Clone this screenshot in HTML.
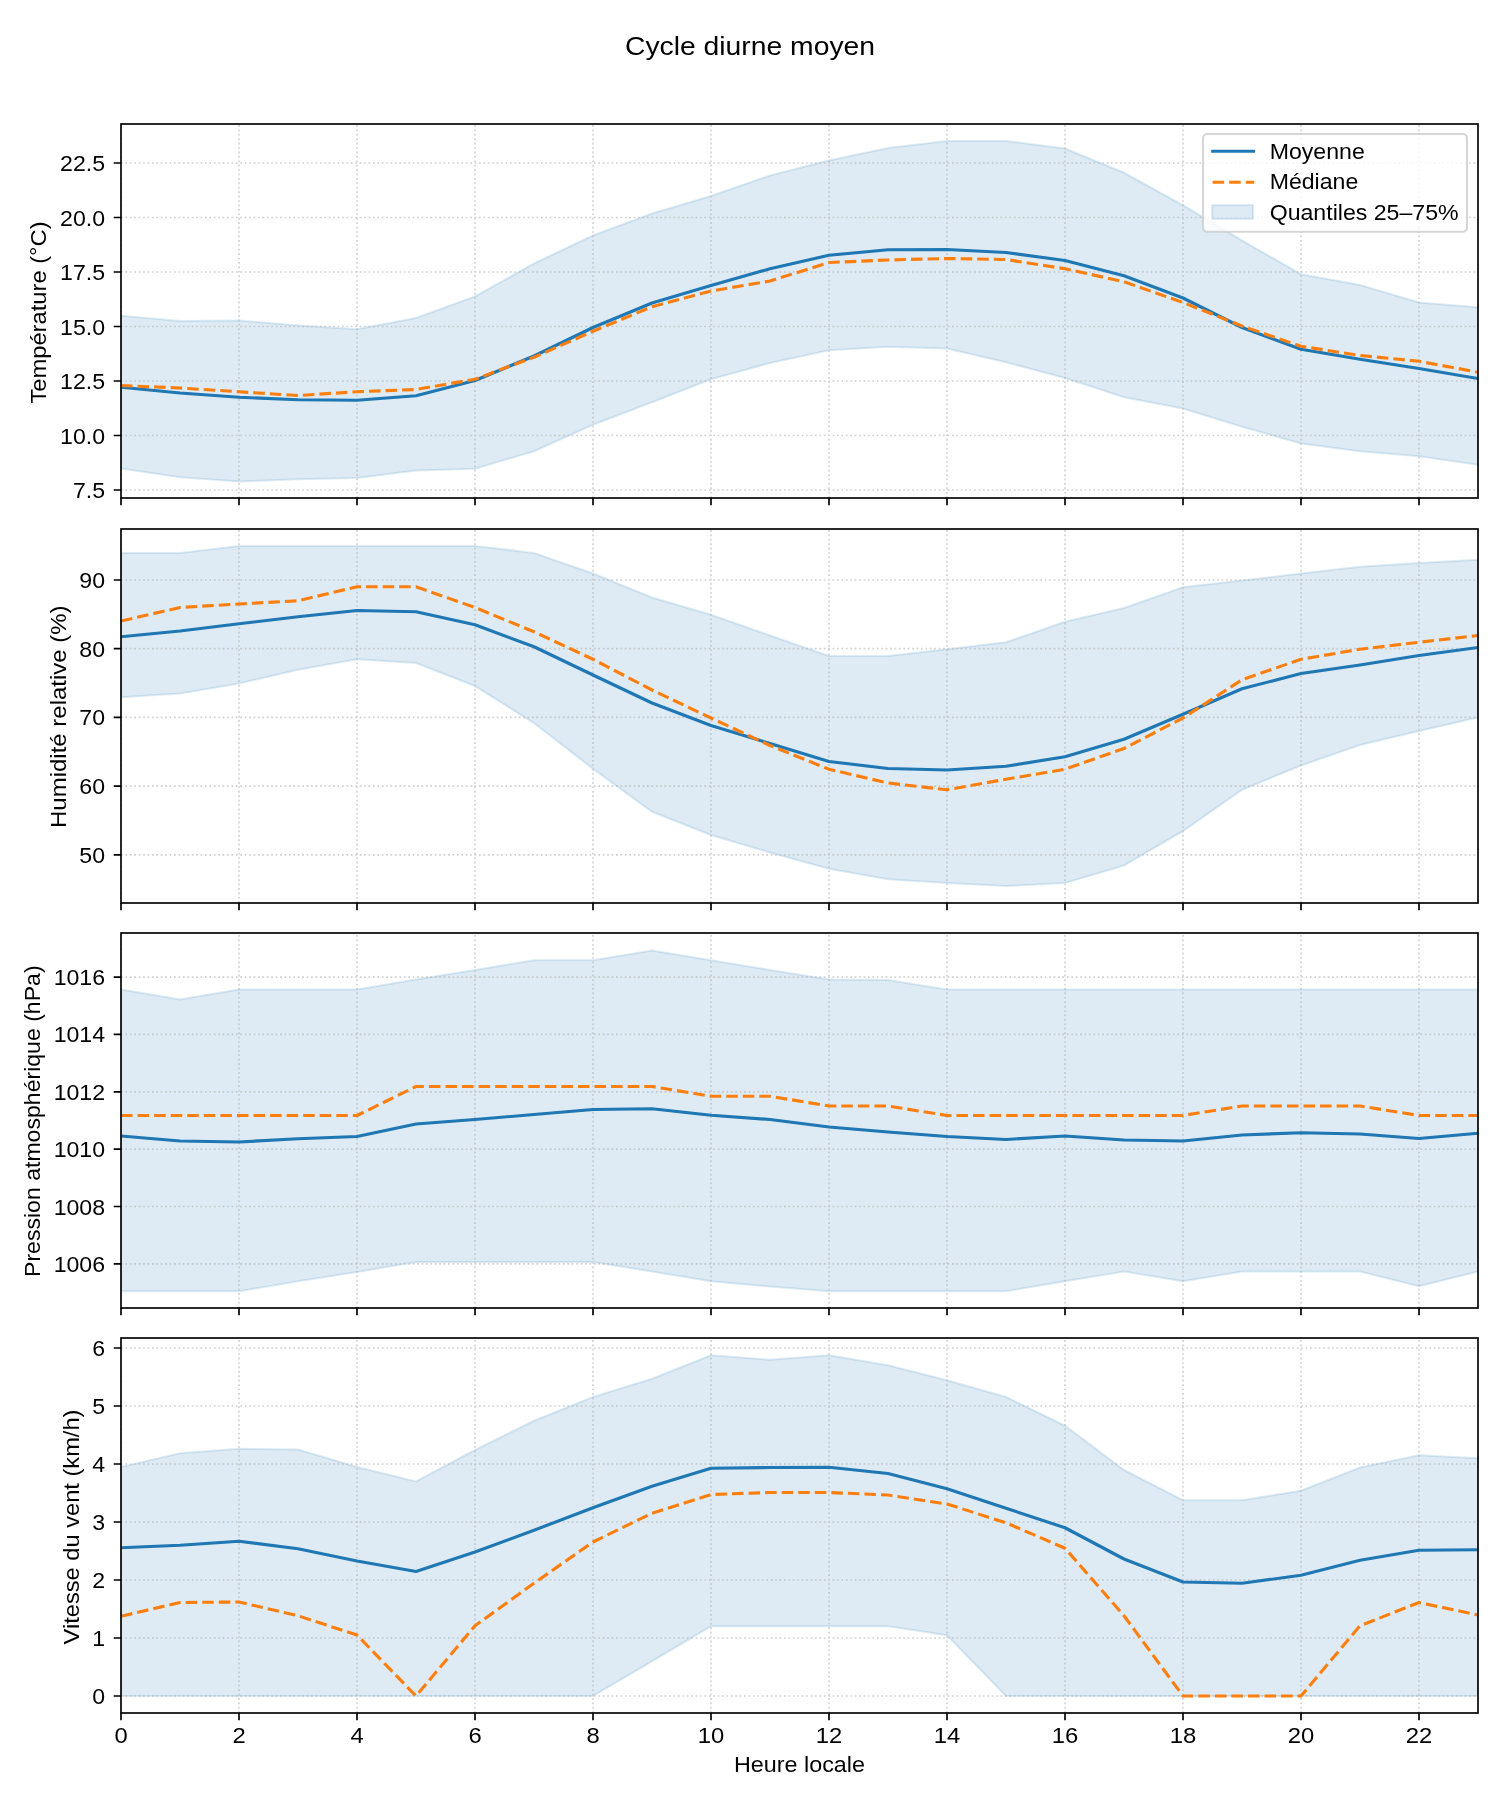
<!DOCTYPE html>
<html lang="fr"><head><meta charset="utf-8"><title>Cycle diurne moyen</title>
<style>html,body{margin:0;padding:0;background:#fff}body{width:1500px;height:1800px;overflow:hidden}svg{display:block;will-change:transform}text{font-family:"Liberation Sans",sans-serif;fill:#000}</style>
</head><body>
<svg width="1500" height="1800" viewBox="0 0 1500 1800">
<text x="750" y="54.7" font-size="26.4" text-anchor="middle" textLength="250.05" lengthAdjust="spacingAndGlyphs">Cycle diurne moyen</text>
<g>
<clipPath id="c0"><rect x="121" y="124" width="1357" height="374"/></clipPath>
<g clip-path="url(#c0)">
<path d="M121 315.75 L180 321 L239 320.5 L298 325.5 L357 329.25 L416 318 L475 296.5 L534 263.5 L593 235.5 L652 213.5 L711 196 L770 175.5 L829 160.5 L888 148 L947 141 L1006 141 L1065 148.5 L1124 172.75 L1183 205.25 L1242 240.5 L1301 274.25 L1360 285 L1419 302.5 L1478 307.25 L1478 464.75 L1419 456.25 L1360 451.25 L1301 443.5 L1242 426.75 L1183 408.5 L1124 397.25 L1065 378 L1006 362.25 L947 348.5 L888 346.75 L829 350.25 L770 363 L711 379.25 L652 402.25 L593 424.75 L534 451.25 L475 468.75 L416 470.5 L357 478 L298 479.25 L239 481.5 L180 477.25 L121 468.5 Z" fill="#1f77b4" fill-opacity="0.15" stroke="#1f77b4" stroke-opacity="0.15" stroke-width="2.08" stroke-linejoin="miter"/>
<path d="M121 498 V124 M239 498 V124 M357 498 V124 M475 498 V124 M593 498 V124 M711 498 V124 M829 498 V124 M947 498 V124 M1065 498 V124 M1183 498 V124 M1301 498 V124 M1419 498 V124 M121 163 H1478 M121 217.5 H1478 M121 272 H1478 M121 326.5 H1478 M121 381 H1478 M121 435.5 H1478 M121 490 H1478" fill="none" stroke="#b0b0b0" stroke-opacity="0.6" stroke-width="1.67" stroke-dasharray="1.67 2.75"/>
<path d="M121 387.25 L180 393 L239 397.25 L298 399.75 L357 400.25 L416 395.75 L475 380.5 L534 356 L593 327.5 L652 303 L711 285.5 L770 268.75 L829 255.25 L888 249.75 L947 249.5 L1006 252.5 L1065 260.5 L1124 275.75 L1183 298 L1242 327.5 L1301 349.25 L1360 359.25 L1419 368.5 L1478 378.5" fill="none" stroke="#1f77b4" stroke-width="3.125" stroke-linejoin="round" stroke-linecap="butt"/>
<path d="M121 385.5 L180 388 L239 391.75 L298 395.5 L357 391.75 L416 389.5 L475 379.25 L534 357.25 L593 331.25 L652 306.75 L711 291 L770 281 L829 262.5 L888 260 L947 258.5 L1006 259.5 L1065 268.75 L1124 281.75 L1183 302.5 L1242 326 L1301 346.25 L1360 355.5 L1419 361.25 L1478 372.25" fill="none" stroke="#ff7f0e" stroke-width="3.125" stroke-dasharray="11.56 5" stroke-linejoin="round" stroke-linecap="butt"/>
</g>
<path d="M121 498 v7.29 M239 498 v7.29 M357 498 v7.29 M475 498 v7.29 M593 498 v7.29 M711 498 v7.29 M829 498 v7.29 M947 498 v7.29 M1065 498 v7.29 M1183 498 v7.29 M1301 498 v7.29 M1419 498 v7.29 M121 163 h-7.29 M121 217.5 h-7.29 M121 272 h-7.29 M121 326.5 h-7.29 M121 381 h-7.29 M121 435.5 h-7.29 M121 490 h-7.29" fill="none" stroke="#000" stroke-width="1.67"/>
<rect x="121" y="124" width="1357" height="374" fill="none" stroke="#000" stroke-width="1.67" stroke-linejoin="miter"/>
<text x="105.1" y="171" font-size="22" text-anchor="end" textLength="44.99" lengthAdjust="spacingAndGlyphs">22.5</text>
<text x="105.1" y="225.5" font-size="22" text-anchor="end" textLength="44.99" lengthAdjust="spacingAndGlyphs">20.0</text>
<text x="105.1" y="280" font-size="22" text-anchor="end" textLength="44.99" lengthAdjust="spacingAndGlyphs">17.5</text>
<text x="105.1" y="334.5" font-size="22" text-anchor="end" textLength="44.99" lengthAdjust="spacingAndGlyphs">15.0</text>
<text x="105.1" y="389" font-size="22" text-anchor="end" textLength="44.99" lengthAdjust="spacingAndGlyphs">12.5</text>
<text x="105.1" y="443.5" font-size="22" text-anchor="end" textLength="44.99" lengthAdjust="spacingAndGlyphs">10.0</text>
<text x="105.1" y="498" font-size="22" text-anchor="end" textLength="32.14" lengthAdjust="spacingAndGlyphs">7.5</text>
<text transform="translate(46.3 312.5) rotate(-90)" font-size="22" text-anchor="middle" textLength="182.2" lengthAdjust="spacingAndGlyphs">Température (°C)</text>
</g>
<g>
<clipPath id="c1"><rect x="121" y="529" width="1357" height="374"/></clipPath>
<g clip-path="url(#c1)">
<path d="M121 553 L180 553 L239 546 L298 546 L357 546 L416 546 L475 546 L534 553 L593 573.5 L652 597.5 L711 614.75 L770 635.5 L829 656 L888 656 L947 649.25 L1006 642.25 L1065 621.75 L1124 608 L1183 587.25 L1242 580.5 L1301 573.5 L1360 566.75 L1419 563 L1478 559.75 L1478 717.5 L1419 731 L1360 745 L1301 765.5 L1242 789.75 L1183 831 L1124 865.5 L1065 883 L1006 886 L947 883 L888 879.25 L829 868.75 L770 852.5 L711 835 L652 811.75 L593 768.75 L534 723 L475 686 L416 663 L357 659.25 L298 669.75 L239 683.5 L180 693.5 L121 697.25 Z" fill="#1f77b4" fill-opacity="0.15" stroke="#1f77b4" stroke-opacity="0.15" stroke-width="2.08" stroke-linejoin="miter"/>
<path d="M121 903 V529 M239 903 V529 M357 903 V529 M475 903 V529 M593 903 V529 M711 903 V529 M829 903 V529 M947 903 V529 M1065 903 V529 M1183 903 V529 M1301 903 V529 M1419 903 V529 M121 580 H1478 M121 648.7 H1478 M121 717.4 H1478 M121 786.1 H1478 M121 854.8 H1478" fill="none" stroke="#b0b0b0" stroke-opacity="0.6" stroke-width="1.67" stroke-dasharray="1.67 2.75"/>
<path d="M121 636.75 L180 631 L239 623.75 L298 616.75 L357 610.5 L416 611.75 L475 624.75 L534 646.75 L593 675 L652 703 L711 725.5 L770 743.5 L829 761.5 L888 768.5 L947 770 L1006 766.25 L1065 756.75 L1124 739.25 L1183 714.25 L1242 688.75 L1301 673.5 L1360 665 L1419 655.5 L1478 647.5" fill="none" stroke="#1f77b4" stroke-width="3.125" stroke-linejoin="round" stroke-linecap="butt"/>
<path d="M121 621 L180 607.5 L239 604 L298 600.75 L357 586.75 L416 586.75 L475 607.5 L534 631.75 L593 659.25 L652 690 L711 718 L770 745.5 L829 769.25 L888 783 L947 789.75 L1006 779.25 L1065 769.25 L1124 748.5 L1183 718 L1242 679.75 L1301 659.25 L1360 649.25 L1419 642.25 L1478 635.5" fill="none" stroke="#ff7f0e" stroke-width="3.125" stroke-dasharray="11.56 5" stroke-linejoin="round" stroke-linecap="butt"/>
</g>
<path d="M121 903 v7.29 M239 903 v7.29 M357 903 v7.29 M475 903 v7.29 M593 903 v7.29 M711 903 v7.29 M829 903 v7.29 M947 903 v7.29 M1065 903 v7.29 M1183 903 v7.29 M1301 903 v7.29 M1419 903 v7.29 M121 580 h-7.29 M121 648.7 h-7.29 M121 717.4 h-7.29 M121 786.1 h-7.29 M121 854.8 h-7.29" fill="none" stroke="#000" stroke-width="1.67"/>
<rect x="121" y="529" width="1357" height="374" fill="none" stroke="#000" stroke-width="1.67" stroke-linejoin="miter"/>
<text x="105.1" y="588" font-size="22" text-anchor="end" textLength="25.71" lengthAdjust="spacingAndGlyphs">90</text>
<text x="105.1" y="656.7" font-size="22" text-anchor="end" textLength="25.71" lengthAdjust="spacingAndGlyphs">80</text>
<text x="105.1" y="725.4" font-size="22" text-anchor="end" textLength="25.71" lengthAdjust="spacingAndGlyphs">70</text>
<text x="105.1" y="794.1" font-size="22" text-anchor="end" textLength="25.71" lengthAdjust="spacingAndGlyphs">60</text>
<text x="105.1" y="862.8" font-size="22" text-anchor="end" textLength="25.71" lengthAdjust="spacingAndGlyphs">50</text>
<text transform="translate(66 716.7) rotate(-90)" font-size="22" text-anchor="middle" textLength="222.6" lengthAdjust="spacingAndGlyphs">Humidité relative (%)</text>
</g>
<g>
<clipPath id="c2"><rect x="121" y="933" width="1357" height="375"/></clipPath>
<g clip-path="url(#c2)">
<path d="M121 989.5 L180 999.5 L239 989.5 L298 989.5 L357 989.5 L416 979.5 L475 970 L534 960.25 L593 960.25 L652 950.5 L711 960.25 L770 970 L829 979.5 L888 980 L947 989.5 L1006 989.5 L1065 989.5 L1124 989.5 L1183 989.5 L1242 989.5 L1301 989.5 L1360 989.5 L1419 989.5 L1478 989.5 L1478 1271.5 L1419 1286.25 L1360 1271.5 L1301 1271.5 L1242 1271.5 L1183 1281.25 L1124 1271.5 L1065 1281.25 L1006 1291.25 L947 1291.25 L888 1291.25 L829 1291.25 L770 1286.5 L711 1281.25 L652 1271.5 L593 1262 L534 1262 L475 1262 L416 1262 L357 1272 L298 1281.25 L239 1291.25 L180 1291.25 L121 1291.25 Z" fill="#1f77b4" fill-opacity="0.15" stroke="#1f77b4" stroke-opacity="0.15" stroke-width="2.08" stroke-linejoin="miter"/>
<path d="M121 1308 V933 M239 1308 V933 M357 1308 V933 M475 1308 V933 M593 1308 V933 M711 1308 V933 M829 1308 V933 M947 1308 V933 M1065 1308 V933 M1183 1308 V933 M1301 1308 V933 M1419 1308 V933 M121 977.1 H1478 M121 1034.4 H1478 M121 1091.8 H1478 M121 1149.1 H1478 M121 1206.5 H1478 M121 1263.8 H1478" fill="none" stroke="#b0b0b0" stroke-opacity="0.6" stroke-width="1.67" stroke-dasharray="1.67 2.75"/>
<path d="M121 1136 L180 1141 L239 1142 L298 1138.75 L357 1136.5 L416 1124 L475 1119.5 L534 1114.5 L593 1109.5 L652 1108.75 L711 1115.25 L770 1119.5 L829 1127 L888 1132 L947 1136.5 L1006 1139.5 L1065 1136 L1124 1140 L1183 1141 L1242 1135 L1301 1132.75 L1360 1134 L1419 1138.5 L1478 1133.25" fill="none" stroke="#1f77b4" stroke-width="3.125" stroke-linejoin="round" stroke-linecap="butt"/>
<path d="M121 1115.5 L180 1115.5 L239 1115.5 L298 1115.5 L357 1115.5 L416 1086.5 L475 1086.5 L534 1086.5 L593 1086.5 L652 1086.5 L711 1096.25 L770 1096.25 L829 1106 L888 1106 L947 1115.5 L1006 1115.5 L1065 1115.5 L1124 1115.5 L1183 1115.5 L1242 1106 L1301 1106 L1360 1106 L1419 1115.5 L1478 1115.5" fill="none" stroke="#ff7f0e" stroke-width="3.125" stroke-dasharray="11.56 5" stroke-linejoin="round" stroke-linecap="butt"/>
</g>
<path d="M121 1308 v7.29 M239 1308 v7.29 M357 1308 v7.29 M475 1308 v7.29 M593 1308 v7.29 M711 1308 v7.29 M829 1308 v7.29 M947 1308 v7.29 M1065 1308 v7.29 M1183 1308 v7.29 M1301 1308 v7.29 M1419 1308 v7.29 M121 977.1 h-7.29 M121 1034.4 h-7.29 M121 1091.8 h-7.29 M121 1149.1 h-7.29 M121 1206.5 h-7.29 M121 1263.8 h-7.29" fill="none" stroke="#000" stroke-width="1.67"/>
<rect x="121" y="933" width="1357" height="375" fill="none" stroke="#000" stroke-width="1.67" stroke-linejoin="miter"/>
<text x="105.1" y="985.1" font-size="22" text-anchor="end" textLength="51.43" lengthAdjust="spacingAndGlyphs">1016</text>
<text x="105.1" y="1042.4" font-size="22" text-anchor="end" textLength="51.43" lengthAdjust="spacingAndGlyphs">1014</text>
<text x="105.1" y="1099.8" font-size="22" text-anchor="end" textLength="51.43" lengthAdjust="spacingAndGlyphs">1012</text>
<text x="105.1" y="1157.1" font-size="22" text-anchor="end" textLength="51.43" lengthAdjust="spacingAndGlyphs">1010</text>
<text x="105.1" y="1214.5" font-size="22" text-anchor="end" textLength="51.43" lengthAdjust="spacingAndGlyphs">1008</text>
<text x="105.1" y="1271.8" font-size="22" text-anchor="end" textLength="51.43" lengthAdjust="spacingAndGlyphs">1006</text>
<text transform="translate(40.2 1121.2) rotate(-90)" font-size="22" text-anchor="middle" textLength="311.6" lengthAdjust="spacingAndGlyphs">Pression atmosphérique (hPa)</text>
</g>
<g>
<clipPath id="c3"><rect x="121" y="1338" width="1357" height="375"/></clipPath>
<g clip-path="url(#c3)">
<path d="M121 1467 L180 1453.25 L239 1448.75 L298 1449.5 L357 1467 L416 1481.5 L475 1450 L534 1420.75 L593 1397 L652 1378.75 L711 1355.25 L770 1359.75 L829 1355.25 L888 1365.25 L947 1380.25 L1006 1397 L1065 1425.75 L1124 1470 L1183 1500.25 L1242 1500.25 L1301 1490.75 L1360 1467.5 L1419 1455.25 L1478 1458.25 L1478 1696 L1419 1696 L1360 1696 L1301 1696 L1242 1696 L1183 1696 L1124 1696 L1065 1696 L1006 1696 L947 1635.25 L888 1626.25 L829 1626.25 L770 1626.25 L711 1626.25 L652 1661.25 L593 1696 L534 1696 L475 1696 L416 1696 L357 1696 L298 1696 L239 1696 L180 1696 L121 1696 Z" fill="#1f77b4" fill-opacity="0.15" stroke="#1f77b4" stroke-opacity="0.15" stroke-width="2.08" stroke-linejoin="miter"/>
<path d="M121 1713 V1338 M239 1713 V1338 M357 1713 V1338 M475 1713 V1338 M593 1713 V1338 M711 1713 V1338 M829 1713 V1338 M947 1713 V1338 M1065 1713 V1338 M1183 1713 V1338 M1301 1713 V1338 M1419 1713 V1338 M121 1348 H1478 M121 1406 H1478 M121 1464 H1478 M121 1522 H1478 M121 1580 H1478 M121 1638 H1478 M121 1696 H1478" fill="none" stroke="#b0b0b0" stroke-opacity="0.6" stroke-width="1.67" stroke-dasharray="1.67 2.75"/>
<path d="M121 1547.75 L180 1545.25 L239 1541.25 L298 1548.75 L357 1561 L416 1571.5 L475 1552 L534 1530.25 L593 1507.75 L652 1486.25 L711 1468.25 L770 1467.5 L829 1467.25 L888 1473.5 L947 1488.75 L1006 1508.25 L1065 1527.75 L1124 1559 L1183 1582 L1242 1583.25 L1301 1575.25 L1360 1560.25 L1419 1550.25 L1478 1549.75" fill="none" stroke="#1f77b4" stroke-width="3.125" stroke-linejoin="round" stroke-linecap="butt"/>
<path d="M121 1616.25 L180 1602.5 L239 1602 L298 1615.75 L357 1635 L416 1696 L475 1625.75 L534 1583.25 L593 1542 L652 1513.25 L711 1494.5 L770 1492.5 L829 1492.5 L888 1495 L947 1504 L1006 1522.75 L1065 1548.25 L1124 1615.75 L1183 1696 L1242 1696 L1301 1696 L1360 1625.75 L1419 1602.5 L1478 1615" fill="none" stroke="#ff7f0e" stroke-width="3.125" stroke-dasharray="11.56 5" stroke-linejoin="round" stroke-linecap="butt"/>
</g>
<path d="M121 1713 v7.29 M239 1713 v7.29 M357 1713 v7.29 M475 1713 v7.29 M593 1713 v7.29 M711 1713 v7.29 M829 1713 v7.29 M947 1713 v7.29 M1065 1713 v7.29 M1183 1713 v7.29 M1301 1713 v7.29 M1419 1713 v7.29 M121 1348 h-7.29 M121 1406 h-7.29 M121 1464 h-7.29 M121 1522 h-7.29 M121 1580 h-7.29 M121 1638 h-7.29 M121 1696 h-7.29" fill="none" stroke="#000" stroke-width="1.67"/>
<rect x="121" y="1338" width="1357" height="375" fill="none" stroke="#000" stroke-width="1.67" stroke-linejoin="miter"/>
<text x="105.1" y="1356" font-size="22" text-anchor="end" textLength="12.86" lengthAdjust="spacingAndGlyphs">6</text>
<text x="105.1" y="1414" font-size="22" text-anchor="end" textLength="12.86" lengthAdjust="spacingAndGlyphs">5</text>
<text x="105.1" y="1472" font-size="22" text-anchor="end" textLength="12.86" lengthAdjust="spacingAndGlyphs">4</text>
<text x="105.1" y="1530" font-size="22" text-anchor="end" textLength="12.86" lengthAdjust="spacingAndGlyphs">3</text>
<text x="105.1" y="1588" font-size="22" text-anchor="end" textLength="12.86" lengthAdjust="spacingAndGlyphs">2</text>
<text x="105.1" y="1646" font-size="22" text-anchor="end" textLength="12.86" lengthAdjust="spacingAndGlyphs">1</text>
<text x="105.1" y="1704" font-size="22" text-anchor="end" textLength="12.86" lengthAdjust="spacingAndGlyphs">0</text>
<text transform="translate(79.1 1527) rotate(-90)" font-size="22" text-anchor="middle" textLength="234.9" lengthAdjust="spacingAndGlyphs">Vitesse du vent (km/h)</text>
</g>
<text x="121" y="1743" font-size="22" text-anchor="middle" textLength="13.25" lengthAdjust="spacingAndGlyphs">0</text>
<text x="239" y="1743" font-size="22" text-anchor="middle" textLength="13.25" lengthAdjust="spacingAndGlyphs">2</text>
<text x="357" y="1743" font-size="22" text-anchor="middle" textLength="13.25" lengthAdjust="spacingAndGlyphs">4</text>
<text x="475" y="1743" font-size="22" text-anchor="middle" textLength="13.25" lengthAdjust="spacingAndGlyphs">6</text>
<text x="593" y="1743" font-size="22" text-anchor="middle" textLength="13.25" lengthAdjust="spacingAndGlyphs">8</text>
<text x="711" y="1743" font-size="22" text-anchor="middle" textLength="26.51" lengthAdjust="spacingAndGlyphs">10</text>
<text x="829" y="1743" font-size="22" text-anchor="middle" textLength="26.51" lengthAdjust="spacingAndGlyphs">12</text>
<text x="947" y="1743" font-size="22" text-anchor="middle" textLength="26.51" lengthAdjust="spacingAndGlyphs">14</text>
<text x="1065" y="1743" font-size="22" text-anchor="middle" textLength="26.51" lengthAdjust="spacingAndGlyphs">16</text>
<text x="1183" y="1743" font-size="22" text-anchor="middle" textLength="26.51" lengthAdjust="spacingAndGlyphs">18</text>
<text x="1301" y="1743" font-size="22" text-anchor="middle" textLength="26.51" lengthAdjust="spacingAndGlyphs">20</text>
<text x="1419" y="1743" font-size="22" text-anchor="middle" textLength="26.51" lengthAdjust="spacingAndGlyphs">22</text>
<text x="799.5" y="1772" font-size="22" text-anchor="middle" textLength="131.05" lengthAdjust="spacingAndGlyphs">Heure locale</text>
<g>
<rect x="1203" y="134" width="264" height="97.7" rx="4.17" ry="4.17" fill="#ffffff" fill-opacity="0.8" stroke="#cccccc" stroke-opacity="0.8" stroke-width="2.08"/>
<path d="M1211.2 151.3 H1255.1" fill="none" stroke="#1f77b4" stroke-width="3.125"/>
<path d="M1212.6 182.3 H1254.2" fill="none" stroke="#ff7f0e" stroke-width="3.125" stroke-dasharray="11.56 5"/>
<rect x="1212.2" y="205.1" width="40.8" height="13.8" fill="#1f77b4" fill-opacity="0.15" stroke="#1f77b4" stroke-opacity="0.15" stroke-width="2.08"/>
<text x="1269.7" y="158.6" font-size="22" textLength="95.09" lengthAdjust="spacingAndGlyphs">Moyenne</text>
<text x="1269.7" y="189.2" font-size="22" textLength="88.59" lengthAdjust="spacingAndGlyphs">Médiane</text>
<text x="1269.7" y="219.8" font-size="22" textLength="188.84" lengthAdjust="spacingAndGlyphs">Quantiles 25–75%</text>
</g>
</svg>
</body></html>
